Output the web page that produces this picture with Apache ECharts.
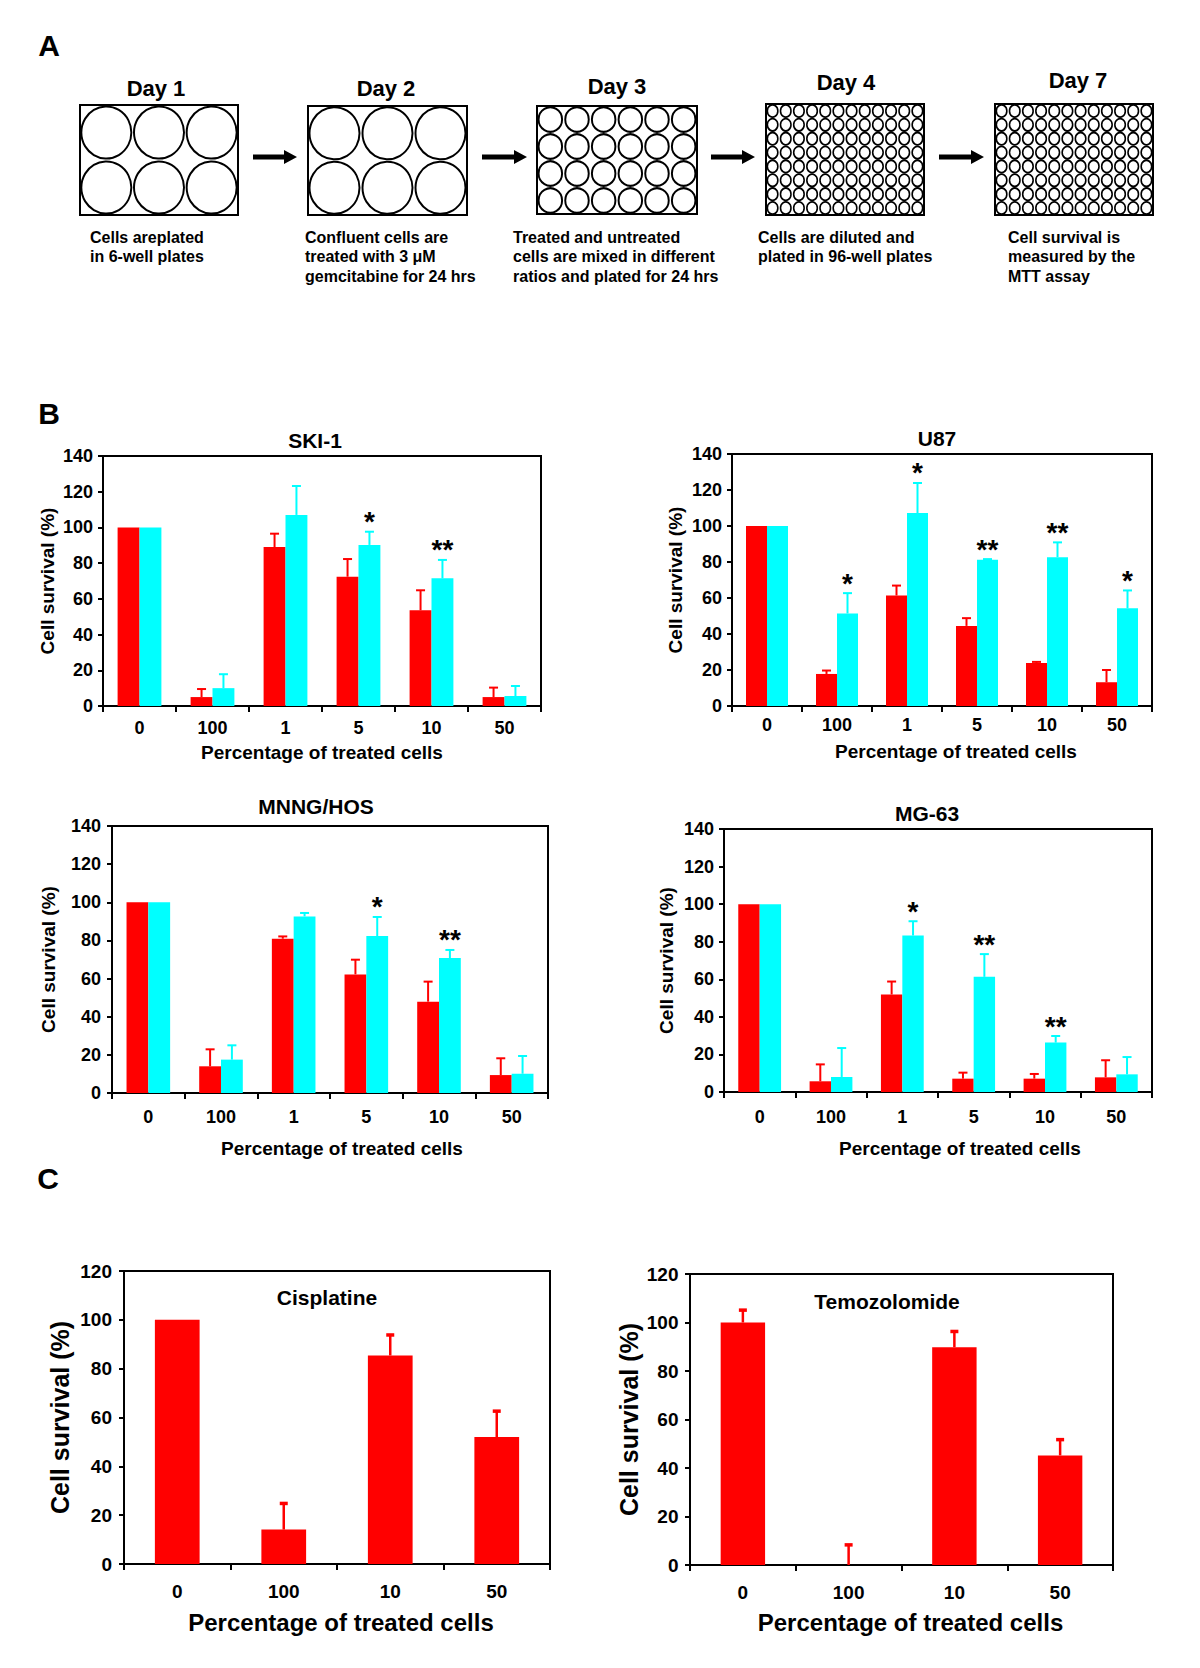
<!DOCTYPE html>
<html>
<head>
<meta charset="utf-8">
<script src="https://cdn.jsdelivr.net/npm/echarts@6/dist/echarts.min.js"></script>
<style>
html,body{margin:0;padding:0;background:#fff;}
#main{width:1200px;height:1668px;}
</style>
</head>
<body>
<div id="main"></div>
<script>
// ---------------- DATA ----------------
// Panel A (schematic)
const dayLabels = ['Day 1', 'Day 2', 'Day 3', 'Day 4', 'Day 7'];
const plateCols = [3, 3, 6, 12, 12];
const plateRows = [2, 2, 4, 8, 8];
const captions = [
  ['Cells areplated', 'in 6-well plates'],
  ['Confluent cells are', 'treated with 3 \u03bcM', 'gemcitabine for 24 hrs'],
  ['Treated and untreated', 'cells are mixed in different', 'ratios and plated for 24 hrs'],
  ['Cells are diluted and', 'plated in 96-well plates'],
  ['Cell survival is', 'measured by the', 'MTT assay']
];
const panelLetters = ['A', 'B', 'C'];

// Panel B
const catsB = ['0', '100', '1', '5', '10', '50'];
const yMaxB = 140, yStepB = 20;
const yNameB = 'Cell survival (%)';
const xNameB = 'Percentage of treated cells';

const ski1Red    = [100, 5, 89, 72.4, 53.6, 5];
const ski1RedSD  = [0, 4.5, 7.5, 9.9, 11.2, 5.3];
const ski1Cyan   = [100, 10, 107, 90.2, 71.5, 5.6];
const ski1CyanSD = [0, 7.8, 16.2, 7.4, 10.3, 5.6];
const ski1Sig    = ['', '', '', '*', '**', ''];

const u87Red    = [100, 17.8, 61.4, 44.5, 23.9, 13.2];
const u87RedSD  = [0, 1.9, 5.5, 4.3, 0.6, 6.8];
const u87Cyan   = [100, 51.4, 107.2, 81.2, 82.7, 54.3];
const u87CyanSD = [0, 11.3, 16.7, 0.4, 8.2, 9.9];
const u87Sig    = ['', '*', '*', '**', '**', '*'];

const hosRed    = [100, 14, 80.9, 62.2, 47.9, 9.4];
const hosRedSD  = [0, 8.9, 1.2, 7.7, 10.5, 8.8];
const hosCyan   = [100, 17.5, 92.6, 82.3, 70.8, 10.1];
const hosCyanSD = [0, 7.5, 1.8, 10, 4.2, 9.3];
const hosSig    = ['', '', '', '*', '**', ''];

const mg63Red    = [100, 5.7, 51.9, 7.1, 7.1, 7.8];
const mg63RedSD  = [0, 9, 6.9, 3.2, 2.5, 9.1];
const mg63Cyan   = [100, 8, 83.3, 61.3, 26.3, 9.4];
const mg63CyanSD = [0, 15.4, 7.6, 12.1, 3.5, 9.2];
const mg63Sig    = ['', '', '*', '**', '**', ''];

// Panel C
const catsC = ['0', '100', '10', '50'];
const yMaxC = 120, yStepC = 20;
const cisVals = [100, 14.1, 85.4, 52];
const cisSD   = [0, 10.7, 8.4, 10.6];
const temVals = [100, 0, 89.8, 45.2];
const temSD   = [5.1, 8.3, 6.5, 6.5];

// ---------------- STYLE / LAYOUT ----------------
const FONT = "'Liberation Sans', Arial, Helvetica, sans-serif";
const RED = '#ff0000', CYAN = '#00ffff', BLACK = '#000000';

const plateLayout = [
  {x: 80,  y: 105, w: 158, h: 110, day: [156, 88],  cap: [90, 237],  well: [50, 52],     bw: 2},
  {x: 308, y: 106, w: 159, h: 109, day: [386, 88],  cap: [305, 237], well: [50, 52],     bw: 2},
  {x: 537, y: 106, w: 160, h: 108, day: [617, 86],  cap: [513, 237], well: [23.5, 24.5], bw: 2},
  {x: 766, y: 104, w: 158, h: 111, day: [846, 82],  cap: [758, 237], well: [10.5, 12.2], bw: 1.7},
  {x: 995, y: 104, w: 158, h: 111, day: [1078, 80], cap: [1008, 237], well: [10.5, 12.2], bw: 1.7}
];
const arrowLayout = [[253, 297], [482, 527], [711, 755], [939, 984]];
const arrowY = 157;
const letterLayout = [[49, 45], [49, 413], [48, 1178]];

const chartsB = [
  {title: 'SKI-1', red: ski1Red, redSD: ski1RedSD, cyan: ski1Cyan, cyanSD: ski1CyanSD, sig: ski1Sig,
   grid: {left: 103, top: 456, width: 438, height: 250}, t: [315, 440], yGap: 46, xGap: 37, xShift: 0, lm: 13, ylm: 10},
  {title: 'U87', red: u87Red, redSD: u87RedSD, cyan: u87Cyan, cyanSD: u87CyanSD, sig: u87Sig,
   grid: {left: 732, top: 454, width: 420, height: 252}, t: [937, 438], yGap: 47.5, xGap: 36, xShift: 14, lm: 10, ylm: 10},
  {title: 'MNNG/HOS', red: hosRed, redSD: hosRedSD, cyan: hosCyan, cyanSD: hosCyanSD, sig: hosSig,
   grid: {left: 112, top: 826, width: 436, height: 267}, t: [316, 806], yGap: 54, xGap: 46, xShift: 12, lm: 14.5, ylm: 11},
  {title: 'MG-63', red: mg63Red, redSD: mg63RedSD, cyan: mg63Cyan, cyanSD: mg63CyanSD, sig: mg63Sig,
   grid: {left: 724, top: 829, width: 428, height: 263}, t: [927, 813], yGap: 48, xGap: 47, xShift: 22, lm: 16, ylm: 10}
];
const chartsC = [
  {title: 'Cisplatine', vals: cisVals, sd: cisSD,
   grid: {left: 124, top: 1271, width: 426, height: 293}, t: [327, 1297], yGap: 52, xGap: 46, xShift: 4, lm: 17.5, ylm: 12},
  {title: 'Temozolomide', vals: temVals, sd: temSD,
   grid: {left: 690, top: 1274, width: 423, height: 291}, t: [887, 1301], yGap: 48.5, xGap: 45, xShift: 9, lm: 17.5, ylm: 11.5}
];

// ---------------- BUILD ----------------
const grid = [], xAxis = [], yAxis = [], series = [], graphic = [];

function txt(x, y, text, font, align, valign) {
  return {type: 'text', x: x, y: y, silent: true,
    style: {text: text, font: font, fill: BLACK, align: align || 'center', textAlign: align || 'center',
            verticalAlign: valign || 'middle', textVerticalAlign: valign || 'middle'}};
}

function errRender(offset, color, capW, capLW, stemLW, sig, starFont) {
  return function (params, api) {
    const i = api.value(0), m = api.value(1), sd = api.value(2);
    const bw = api.size([1, 0])[0];
    const p0 = api.coord([i, m]);
    const x = p0[0] + offset * bw;
    const top = api.coord([i, m + sd])[1];
    const children = [];
    if (sd > 0) {
      children.push({type: 'line', shape: {x1: x, y1: p0[1], x2: x, y2: top},
        style: {stroke: color, lineWidth: stemLW}});
      children.push({type: 'line', shape: {x1: x - capW / 2, y1: top, x2: x + capW / 2, y2: top},
        style: {stroke: color, lineWidth: capLW}});
    }
    const s = sig ? sig[params.dataIndex] : '';
    if (s) {
      children.push({type: 'text', x: x, y: top - 10,
        style: {text: s, font: starFont, fill: BLACK, align: 'center', textAlign: 'center',
                verticalAlign: 'middle', textVerticalAlign: 'middle'}});
    }
    return {type: 'group', children: children};
  };
}

function addBarChart(k, cats, yMax, yStep, g, fonts) {
  grid.push(Object.assign({show: true, borderColor: BLACK, borderWidth: 2, backgroundColor: 'transparent'}, g.grid));
  const shiftPad = g.xShift >= 0 ? [0, 0, 0, 2 * g.xShift] : [0, -2 * g.xShift, 0, 0];
  xAxis.push({
    type: 'category', gridIndex: k, data: cats, boundaryGap: true,
    axisLine: {show: true, lineStyle: {color: BLACK, width: 2}},
    axisTick: {show: true, length: 6, alignWithLabel: false, lineStyle: {color: BLACK, width: 2}},
    axisLabel: {interval: 0, margin: g.lm, color: BLACK, fontFamily: FONT, fontWeight: 'bold', fontSize: fonts.tick},
    splitLine: {show: false},
    name: xNameB, nameLocation: 'middle', nameGap: g.xGap,
    nameTextStyle: {color: BLACK, fontFamily: FONT, fontWeight: 'bold', fontSize: fonts.xName, padding: shiftPad}
  });
  yAxis.push({
    type: 'value', gridIndex: k, min: 0, max: yMax, interval: yStep,
    axisLine: {show: true, lineStyle: {color: BLACK, width: 2}},
    axisTick: {show: true, length: 5, lineStyle: {color: BLACK, width: 2}},
    axisLabel: {margin: g.ylm, color: BLACK, fontFamily: FONT, fontWeight: 'bold', fontSize: fonts.tick},
    splitLine: {show: false},
    name: yNameB, nameLocation: 'middle', nameGap: g.yGap,
    nameTextStyle: {color: BLACK, fontFamily: FONT, fontWeight: 'bold', fontSize: fonts.yName}
  });
  graphic.push(txt(g.t[0], g.t[1], g.title, 'bold ' + fonts.title + 'px ' + FONT));
}

let k = 0;
chartsB.forEach(function (c) {
  addBarChart(k, catsB, yMaxB, yStepB, c, {tick: 18, xName: 19, yName: 19, title: 21});
  series.push({type: 'bar', name: c.title + ' red', xAxisIndex: k, yAxisIndex: k, data: c.red,
    barWidth: '30%', barGap: '0%', itemStyle: {color: RED}, silent: true});
  series.push({type: 'bar', name: c.title + ' cyan', xAxisIndex: k, yAxisIndex: k, data: c.cyan,
    barWidth: '30%', barGap: '0%', itemStyle: {color: CYAN}, silent: true});
  series.push({type: 'custom', xAxisIndex: k, yAxisIndex: k, z: 5, silent: true,
    data: c.red.map(function (v, i) { return [i, v, c.redSD[i]]; }),
    renderItem: errRender(-0.15, RED, 9, 2, 2, null, '')});
  series.push({type: 'custom', xAxisIndex: k, yAxisIndex: k, z: 5, silent: true,
    data: c.cyan.map(function (v, i) { return [i, v, c.cyanSD[i]]; }),
    renderItem: errRender(0.15, CYAN, 9, 2, 2, c.sig, 'bold 28px ' + FONT)});
  k++;
});
chartsC.forEach(function (c) {
  addBarChart(k, catsC, yMaxC, yStepC, c, {tick: 19, xName: 24, yName: 25, title: 21});
  series.push({type: 'bar', name: c.title, xAxisIndex: k, yAxisIndex: k, data: c.vals,
    barWidth: '42%', itemStyle: {color: RED}, silent: true});
  series.push({type: 'custom', xAxisIndex: k, yAxisIndex: k, z: 5, silent: true,
    data: c.vals.map(function (v, i) { return [i, v, c.sd[i]]; }),
    renderItem: errRender(0, RED, 8, 3.5, 2.5, null, '')});
  k++;
});

// Panel A: plates as small grids with wells drawn by scatter
plateLayout.forEach(function (p, idx) {
  grid.push({show: true, left: p.x, top: p.y, width: p.w, height: p.h,
    borderColor: BLACK, borderWidth: 2, backgroundColor: '#fff'});
  xAxis.push({type: 'value', gridIndex: k, min: 0, max: plateCols[idx], show: false});
  yAxis.push({type: 'value', gridIndex: k, min: 0, max: plateRows[idx], show: false});
  const wells = [];
  for (let r = 0; r < plateRows[idx]; r++) {
    for (let c = 0; c < plateCols[idx]; c++) wells.push([c + 0.5, r + 0.5]);
  }
  series.push({type: 'scatter', xAxisIndex: k, yAxisIndex: k, data: wells, silent: true,
    symbol: 'circle', symbolSize: p.well,
    itemStyle: {color: '#ffffff', borderColor: BLACK, borderWidth: p.bw, opacity: 1}});
  graphic.push(txt(p.day[0], p.day[1], dayLabels[idx], 'bold 22px ' + FONT));
  captions[idx].forEach(function (line, li) {
    graphic.push(txt(p.cap[0], p.cap[1] + li * 19.5, line, 'bold 16px ' + FONT, 'left', 'middle'));
  });
  k++;
});
arrowLayout.forEach(function (a) {
  const x1 = a[0], x2 = a[1], y = arrowY, hl = 13;
  graphic.push({type: 'polygon', silent: true,
    shape: {points: [[x1, y - 2.5], [x2 - hl, y - 2.5], [x2 - hl, y - 7], [x2, y], [x2 - hl, y + 7], [x2 - hl, y + 2.5], [x1, y + 2.5]]},
    style: {fill: BLACK}});
});
panelLetters.forEach(function (L, i) {
  graphic.push(txt(letterLayout[i][0], letterLayout[i][1], L, 'bold 30px ' + FONT));
});

const chart = echarts.init(document.getElementById('main'), null, {renderer: 'svg'});
chart.setOption({
  backgroundColor: '#ffffff',
  animation: false,
  textStyle: {fontFamily: FONT},
  grid: grid, xAxis: xAxis, yAxis: yAxis, series: series, graphic: graphic
});
</script>
</body>
</html>
